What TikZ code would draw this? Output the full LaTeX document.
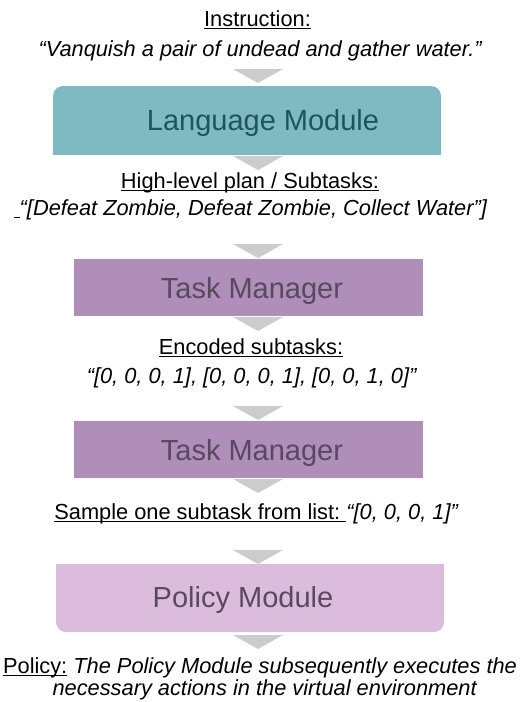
\documentclass[tikz,border=0pt]{standalone}
\usepackage{fontspec}
\setmainfont{Liberation Sans}
\definecolor{langfill}{HTML}{7FBAC2}
\definecolor{langtext}{HTML}{1E5460}
\definecolor{tmfill}{HTML}{AF8EB9}
\definecolor{tmtext}{HTML}{574A5E}
\definecolor{polfill}{HTML}{DBBCDC}
\definecolor{poltext}{HTML}{5A4A60}
\definecolor{arrowgray}{HTML}{CCCCCC}
\newcommand\myul[1]{\setbox0\hbox{#1}\rlap{\rule[-3.2pt]{\wd0}{1.4pt}}\box0\relax}
\tikzset{
  lbl/.style={font=\fontsize{21.8}{22}\selectfont, text=black, inner sep=0pt, anchor=base, align=center},
  boxtext/.style={font=\fontsize{29}{30}\selectfont, inner sep=0pt, anchor=base},
  downtri/.pic={\fill[arrowgray] (-25,0) -- (25,0) -- (0,14) -- cycle;}
}
\begin{document}
\begin{tikzpicture}[x=1pt,y=-1pt]
\path[use as bounding box] (0,0) rectangle (522,702);
% texts
\node[lbl] (instr) at (257.5,26) {\myul{Instruction:}};
\node[lbl] (instrq) at (260.5,56) {\textit{“Vanquish a pair of undead and gather water.”}};
\pic at (258,69) {downtri};
% Language module
\begin{scope}
\clip (53,86) rectangle (441,154);
\fill[langfill, rounded corners=10pt] (53,86) rectangle (441,180);
\end{scope}
\node[boxtext, text=langtext] (lang) at (263,130) {Language Module};
\pic at (258,156) {downtri};
\node[lbl] (plan) at (250,188) {\myul{High-level plan / Subtasks:}};
\node[lbl] (planq) at (250.5,215) {\myul{\ }\textit{“[Defeat Zombie, Defeat Zombie, Collect Water”]}};
\pic at (258,244) {downtri};
% Task manager 1
\fill[tmfill] (74,259) rectangle (423,316);
\node[boxtext, text=tmtext] (tm1) at (252,298) {Task Manager};
\pic at (258,317) {downtri};
\node[lbl] (enc) at (251,354) {\myul{Encoded subtasks:}};
\node[lbl] (encq) at (252,383) {\textit{“[0, 0, 0, 1], [0, 0, 0, 1], [0, 0, 1, 0]”}};
\pic at (258,406) {downtri};
% Task manager 2
\fill[tmfill] (74,421) rectangle (423,478);
\node[boxtext, text=tmtext] (tm2) at (252,460) {Task Manager};
\pic at (258,479) {downtri};
\node[lbl] (samp) at (256.5,519) {\myul{Sample one subtask from list:\ }\textit{“[0, 0, 0, 1]”}};
\pic at (258,550) {downtri};
% Policy module
\begin{scope}
\clip (56,564) rectangle (444,632);
\fill[polfill, rounded corners=10pt] (56,540) rectangle (444,632);
\end{scope}
\node[boxtext, text=poltext] (pol) at (243,607) {Policy Module};
\pic at (258,635) {downtri};
\node[lbl] (polq) at (260,673) {\myul{Policy:} \textit{The Policy Module subsequently executes the}};
\node[lbl] (polq2) at (265,695) {\textit{necessary actions in the virtual environment}};
\end{tikzpicture}
\end{document}
